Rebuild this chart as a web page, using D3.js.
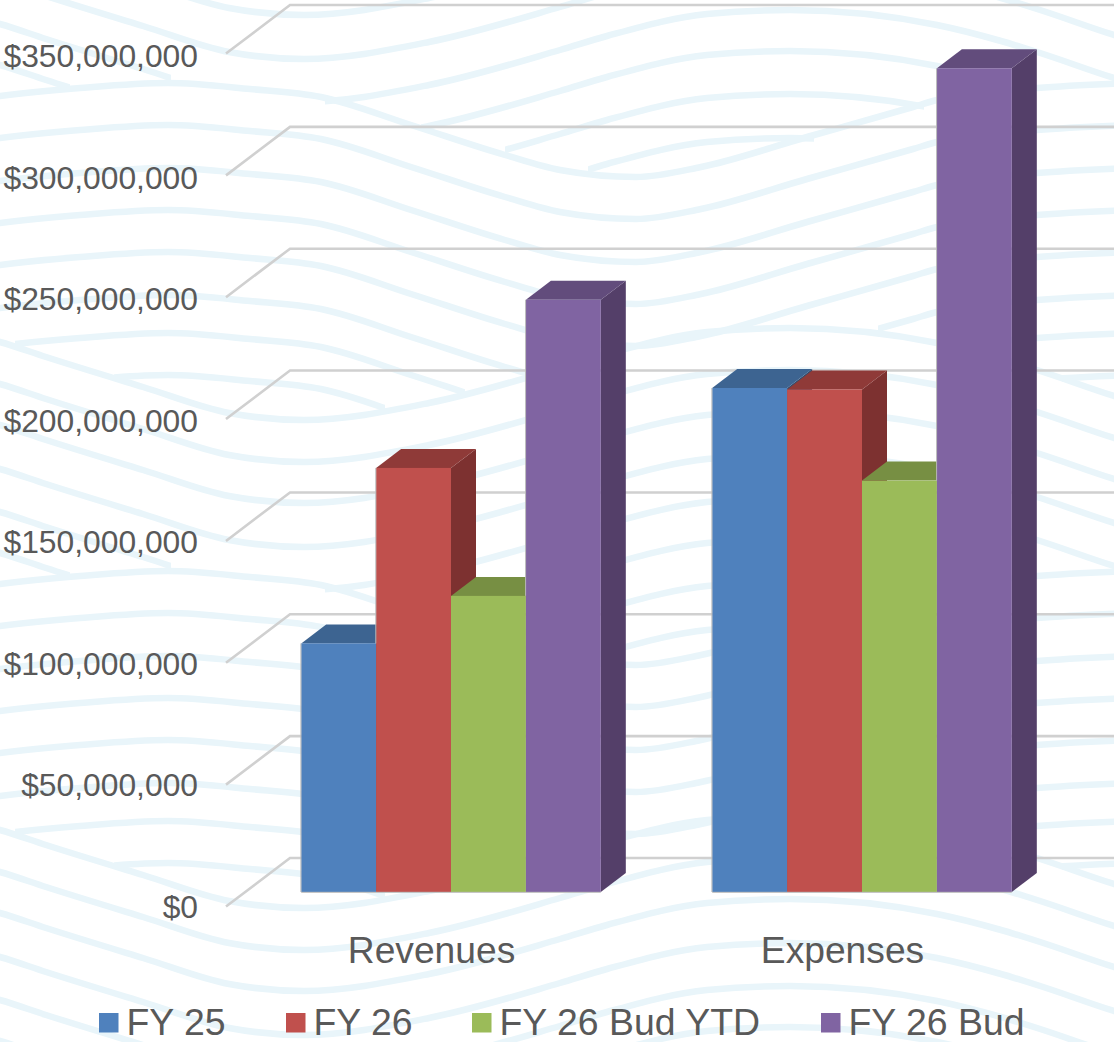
<!DOCTYPE html>
<html>
<head>
<meta charset="utf-8">
<script src="https://cdn.jsdelivr.net/npm/d3@7"></script>
<style>
    html, body { margin: 0; padding: 0; background: #fff; }
    svg { display: block; }
    text { font-family: "Liberation Sans", Arial, sans-serif; fill: #595959; }
</style>
</head>
<body>
<svg id="chart" width="1114" height="1042"></svg>
<script>
var categories = ["Revenues", "Expenses"];
var series = ["FY 25", "FY 26", "FY 26 Bud YTD", "FY 26 Bud"];
var fy25 = [102000000, 206800000];
var fy26 = [174000000, 206200000];
var fy26BudYtd = [121500000, 168800000];
var fy26Bud = [243000000, 338000000];
var yTicks = [0, 50000000, 100000000, 150000000, 200000000, 250000000, 300000000, 350000000];

var frontColors = ["#4f81bd", "#c0504d", "#9bbb59", "#8064a2"];
var topColors = ["#3d6491", "#8f3a38", "#778f43", "#624c7c"];
var sideColors = ["#2f4d70", "#7d3130", "#5c6e34", "#543f69"];

// background wave outlines, [x, offset]; family A is measured from its crest, B from its trough
var waveA = [[-40, 19], [0, 13], [80, 5], [168, 0], [250, 6], [321, 14], [411, 42], [505, 72], [560, 87], [636, 94],
    [701, 84], [807, 54], [913, 24], [937, 17], [1037, 5], [1131, 0]];
var waveB = [[-40, -88], [0, -78], [46, -63], [143, -33], [229, -7], [304, 0], [429, -17], [560, -52], [607, -66], [707, -88],
    [790, -92], [937, -77], [1001, -61], [1037, -50], [1114, -24], [1140, -16]];
var waveTileHeight = 488;
var waveTiles = [-1, 0, 1];
// [y of crest or trough, visible x ranges]
var waveALines = [
    [83, [[0, 1114]]], [125, [[0, 1114]]], [168, [[0, 1114]]], [210, [[0, 1114]]], [252, [[0, 1114]]],
    [295, [[0, 530], [878, 1114]]], [333, [[15, 465], [960, 1114]]], [375, [[114, 385], [1062, 1114]]]
];
var waveBLines = [
    [420, [[0, 1114]]], [462, [[0, 1114]]], [503, [[0, 1114]]], [547, [[0, 1114]]],
    [590, [[0, 171], [325, 1114]]], [631, [[0, 70], [421, 1010]]], [674, [[505, 924]]], [718, [[588, 814]]]
];

var values = [fy25, fy26, fy26BudYtd, fy26Bud];
var svg = d3.select("#chart");

var depth = { x: 25, y: 19 };      // bar depth
var wall = { x: 64, y: 49 };       // side wall depth

var x0 = d3.scaleBand().domain(categories).range([245.5, 1067.5]).paddingInner(0.271).paddingOuter(0.1355);
var x1 = d3.scaleBand().domain(series).range([0, x0.bandwidth()]);
var yFront = d3.scaleLinear().domain([0, 350000000]).range([907, 54]);
var yLabel = d3.scaleLinear().domain([0, 350000000]).range([905.3, 55]);
var yBar = d3.scaleLinear().domain([0, 350000000]).range([892, 39]);

// waves
var waves = svg.append("g").attr("fill", "none").attr("stroke", "#e9f5fa").attr("stroke-width", 6.5);
var defs = svg.append("defs");
var clipCount = 0;

function add_wave(shape, base, spans) {
    var line = d3.line()
        .curve(d3.curveMonotoneX)
        .x(function(d) { return d[0]; })
        .y(function(d) { return base + d[1]; });
    spans.forEach(function(span) {
        var id = "wave-clip-" + (clipCount++);
        defs.append("clipPath").attr("id", id).append("rect")
            .attr("x", span[0]).attr("y", base - 200)
            .attr("width", span[1] - span[0]).attr("height", 400);
        waves.append("path").attr("clip-path", "url(#" + id + ")").attr("d", line(shape));
    });
}

waveTiles.forEach(function(k) {
    waveALines.forEach(function(l) { add_wave(waveA, l[0] + k * waveTileHeight, l[1]); });
    waveBLines.forEach(function(l) { add_wave(waveB, l[0] + k * waveTileHeight, l[1]); });
});

// gridlines on the side and back walls
var grid = svg.append("g").attr("fill", "none").attr("stroke", "#d0d0d0").attr("stroke-width", 2.6);
yTicks.forEach(function(t) {
    var y = yFront(t);
    grid.append("path").attr("d", "M226," + (y - 0.5) + "L" + (226 + wall.x) + "," + (y - wall.y) + "L1114," + (y - wall.y));
});

// y axis labels
var yAxis = d3.axisLeft(yLabel).tickValues(yTicks).tickSize(0).tickPadding(0).tickFormat(d3.format("$,"));
var yG = svg.append("g").attr("transform", "translate(198,0)").call(yAxis);
yG.select(".domain").remove();
yG.selectAll("text").attr("dy", "0.37em").style("font-size", "31.8px").style("font-family", null);

// bars, left to right so each front covers the side of the one before it
categories.forEach(function(cat, c) {
    series.forEach(function(name, s) {
        var bx = x0(cat) + x1(name);
        var w = x1.bandwidth();
        var top = yBar(values[s][c]);
        var bottom = yBar(0);
        var g = svg.append("g");
        g.append("polygon")
            .attr("fill", sideColors[s])
            .attr("points", [[bx + w, top], [bx + w + depth.x, top - depth.y], [bx + w + depth.x, bottom - depth.y], [bx + w, bottom]].join(" "));
        g.append("polygon")
            .attr("fill", topColors[s])
            .attr("points", [[bx, top], [bx + depth.x, top - depth.y], [bx + w + depth.x, top - depth.y], [bx + w, top]].join(" "));
        g.append("rect")
            .attr("x", bx).attr("y", top)
            .attr("width", w).attr("height", bottom - top)
            .attr("fill", frontColors[s]);

        // thin grey edge only where a bar stands clear of its left neighbour
        var edgeEnd = s === 0 ? bottom : yBar(values[s - 1][c]);
        if (edgeEnd > top) {
            g.append("line")
                .attr("x1", bx - 0.3).attr("x2", bx - 0.3)
                .attr("y1", top).attr("y2", edgeEnd)
                .attr("stroke", "#b8b8b8").attr("stroke-width", 1);
        }
    });
    svg.append("line")
        .attr("x1", x0(cat)).attr("x2", x0(cat) + x0.bandwidth())
        .attr("y1", yBar(0) + 0.3).attr("y2", yBar(0) + 0.3)
        .attr("stroke", "#b8b8b8").attr("stroke-width", 1);
});

// category labels sit under the front edge of the floor
var xAxis = d3.axisBottom(x0).tickSize(0).tickPadding(0);
var xG = svg.append("g").attr("transform", "translate(-19.5,930)").call(xAxis);
xG.select(".domain").remove();
xG.selectAll("text").attr("y", 0).attr("dy", "33px").style("font-size", "37.2px").style("font-family", null);

// legend
var legendX = d3.scaleOrdinal().domain(series).range([99, 286, 472, 821]);
var legend = svg.selectAll(".legend-item").data(series).enter().append("g")
    .attr("class", "legend-item")
    .attr("transform", function(d) { return "translate(" + legendX(d) + ",1013)"; });
legend.append("rect").attr("width", 19.5).attr("height", 19.5)
    .attr("fill", function(d, i) { return frontColors[i]; });
legend.append("text").attr("x", 27.5).attr("y", 22).style("font-size", "37.4px")
    .text(function(d) { return d; });
</script>
</body>
</html>
